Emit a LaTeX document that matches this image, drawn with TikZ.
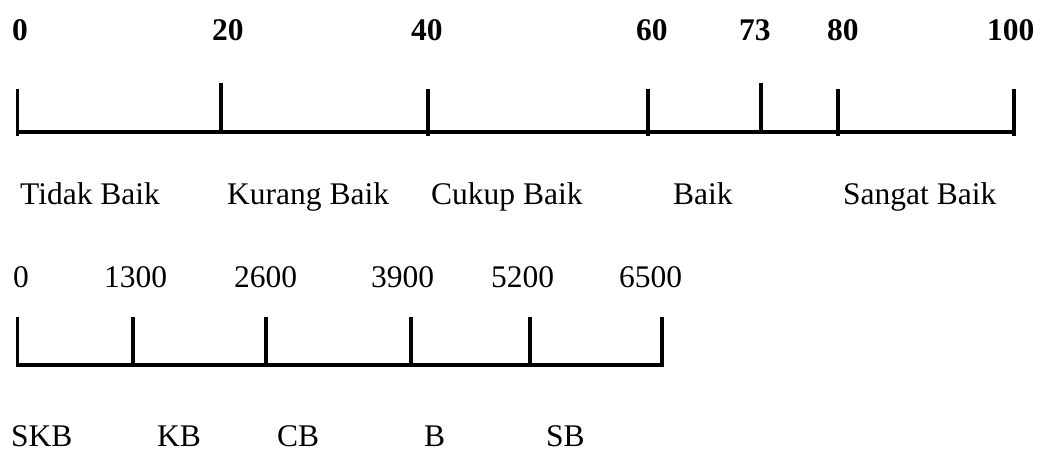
\documentclass[tikz,border=0pt]{standalone}
\usepackage{fontspec}
\setmainfont{Liberation Serif}
\begin{document}
\begin{tikzpicture}[x=1pt,y=-1pt,
  lbl/.style={anchor=base west,inner sep=0pt,font=\fontsize{31.5}{36}\selectfont},
  blbl/.style={lbl,font=\fontsize{31.5}{36}\selectfont\bfseries},
  klbl/.style={lbl,text depth=0pt},
  axis/.style={line width=3.2pt},
  tickln/.style={line width=3.2pt}]
\useasboundingbox (0,0) rectangle (1043,450);

% ---- upper scale: 0 to 100 ----
\node[blbl] (t0)   at (12,40)  {0};
\node[blbl] (t20)  at (212,40) {20};
\node[blbl] (t40)  at (411,40) {40};
\node[blbl] (t60)  at (636,40) {60};
\node[blbl] (t73)  at (739,40) {73};
\node[blbl] (t80)  at (827,40) {80};
\node[blbl] (t100) at (987,40) {100};

\coordinate (a0)   at (17.5,132);
\coordinate (a100) at (1014.5,132);
\draw[axis] (a0) -- (a100);
\draw[tickln] (17.5,89)  -- (17.5,136);
\draw[tickln] (221,83)   -- (221,131);
\draw[tickln] (428,89)   -- (428,136);
\draw[tickln] (648,89)   -- (648,136);
\draw[tickln] (761,83)   -- (761,131);
\draw[tickln] (838,89)   -- (838,136);
\draw[tickln] (1014,89)  -- (1014,136);

\node[lbl] (c1) at (20,204)  {Tidak Baik};
\node[lbl] (c2) at (227,204) {Kurang Baik};
\node[lbl] (c3) at (431,204) {Cukup Baik};
\node[lbl] (c4) at (673,204) {Baik};
\node[lbl] (c5) at (843,204) {Sangat Baik};

% ---- lower scale: 0 to 6500 ----
\node[lbl] (n0)    at (13,287)  {0};
\node[lbl] (n1300) at (104,287) {1300};
\node[lbl] (n2600) at (234,287) {2600};
\node[lbl] (n3900) at (371,287) {3900};
\node[lbl] (n5200) at (491,287) {5200};
\node[lbl] (n6500) at (619,287) {6500};

\coordinate (b0)    at (17.5,365);
\coordinate (b6500) at (662,365);
\draw[axis] (b0) -- (b6500);
\draw[tickln] (17.5,317) -- (17.5,367);
\draw[tickln] (133,317)  -- (133,365);
\draw[tickln] (266,317)  -- (266,365);
\draw[tickln] (411,317)  -- (411,365);
\draw[tickln] (530,317)  -- (530,365);
\draw[tickln] (662,317)  -- (662,367);

\node[klbl] (k1) at (11,446)  {SKB};
\node[klbl] (k2) at (157,446) {KB};
\node[klbl] (k3) at (277,446) {CB};
\node[klbl] (k4) at (424,446) {B};
\node[klbl] (k5) at (546,446) {SB};
\end{tikzpicture}
\end{document}
